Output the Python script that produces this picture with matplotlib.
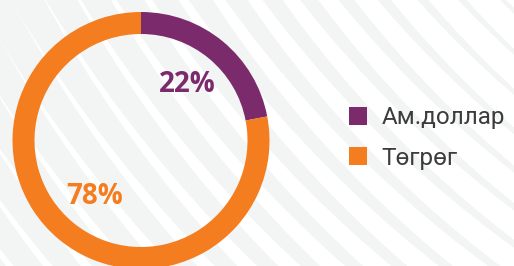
import numpy as np
import matplotlib
matplotlib.use("Agg")
import matplotlib.pyplot as plt

# ── data ──
labels = ["Ам.доллар", "Төгрөг"]
shares = [22, 78]
colors = ["#7b2a6b", "#f47d20"]

W, H = 514, 266
plt.rcParams["font.family"] = ["Open Sans", "DejaVu Sans"]

fig = plt.figure(figsize=(W / 100, H / 100), dpi=100, facecolor="white")
ax = fig.add_axes([0, 0, 1, 1])

# ── background: curved white/grey stripes (soft edges, 1 px) ──
P = 30.0
yy, xx = np.mgrid[0:H, 0:W] + 0.5
r = np.hypot(xx - 1200, yy + 700)
d = r % P
w = P * np.clip(-0.05 + 0.0018 * xx + 0.0009 * yy - 0.0000025 * xx * yy, 0, 0.85)
inside = np.maximum(np.minimum(d, w - d), np.minimum(d - P, w - (d - P)))
cov = np.clip(inside + 0.5, 0, 1)
grey = np.array([0xf3, 0xf5, 0xf5]) / 255
img = grey[None, None, :] * (1 - cov[..., None]) + cov[..., None]
ax.imshow(img, extent=(0, W, 0, H), origin="upper", interpolation="nearest", zorder=0)

# ── donut ──
wedges, texts, autotexts = ax.pie(
    shares, colors=colors, startangle=90, counterclock=False,
    radius=128.5, center=(141, 125.5), autopct="%1.0f%%", pctdistance=0.57,
    wedgeprops=dict(width=22, linewidth=0),
    textprops=dict(fontsize=20, fontweight="bold"))
for t, c in zip(autotexts, colors):
    t.set_color(c)
    t.set_zorder(5)
for wd in wedges:
    wd.set_zorder(3)

ax.set_xlim(0, W)
ax.set_ylim(0, H)
ax.set_aspect("equal")
ax.axis("off")

leg = ax.legend(wedges, labels, loc="center left", bbox_to_anchor=(349 / W, 1 - 138 / H),
                bbox_transform=fig.transFigure, frameon=False,
                prop=dict(family=["Roboto", "DejaVu Sans"], size=17.5),
                handlelength=0.72, handleheight=0.72, handletextpad=0.62,
                labelspacing=0.7, borderpad=0, borderaxespad=0)
for t in leg.get_texts():
    t.set_color("#3c3c3c")

fig.savefig("out.png", dpi=100, facecolor="white")
